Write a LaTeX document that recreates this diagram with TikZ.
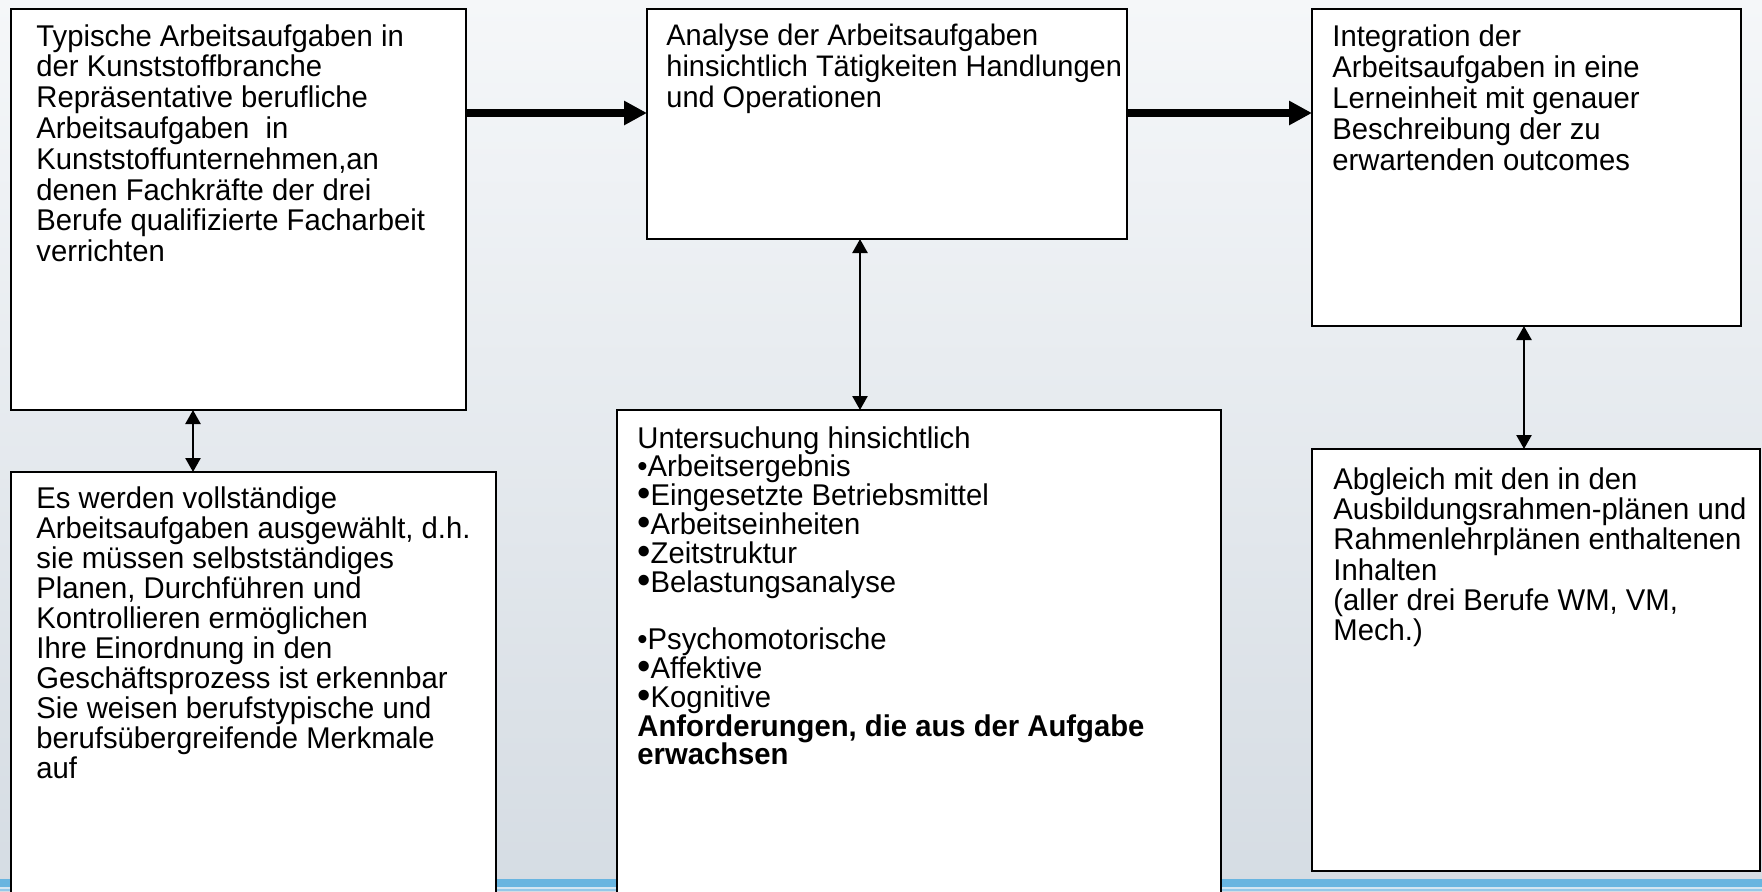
\documentclass[tikz,border=0pt]{standalone}
\usepackage{fontspec}
\setmainfont{Liberation Sans}[FakeStretch=0.975]
\usepackage{graphicx}
\usetikzlibrary{arrows.meta,calc}
\definecolor{bgtop}{HTML}{F5F7F9}
\definecolor{bgbot}{HTML}{D5DCE3}
\definecolor{stripe}{HTML}{68B5E0}
\definecolor{stripelight}{HTML}{D3E6F2}
\definecolor{stripetwo}{HTML}{93C8E8}
\newcommand\bigbul{\smash{\raisebox{-0.04em}{\scalebox{1.3}{•}}}}
\begin{document}
\begin{tikzpicture}[x=0.5pt,y=-0.5pt,
  box/.style={draw=black,line width=1.1pt,fill=white,anchor=north west,inner sep=0pt,outer sep=0pt},
  txt/.style={anchor=north west,inner sep=0pt,align=left},
  flow/.style={line width=4pt,-{Triangle[length=11.5pt,width=11.5pt]}},
  link/.style={line width=1.25pt,{Triangle[length=7pt,width=7.5pt]}-{Triangle[length=7pt,width=7.5pt]}}]
\useasboundingbox (0,0) rectangle (1762,891);
% background
\shade[top color=bgtop,bottom color=bgbot] (0,0) rectangle (1762,891);
\fill[stripe] (0,879) rectangle (1762,887);
\fill[stripelight] (0,887) rectangle (1762,889);
\fill[stripetwo] (0,889) rectangle (1762,891);
% boxes
\node[box,minimum width=227.5pt,minimum height=200.5pt] (b1) at (11,9) {};
\node[box,minimum width=240pt,minimum height=115pt] (b3) at (647,9) {};
\node[box,minimum width=214.5pt,minimum height=158.5pt] (b5) at (1312,9) {};
\node[box,minimum width=242.5pt,minimum height=215pt] (b2) at (11,472) {};
\node[box,minimum width=302pt,minimum height=245pt] (b4) at (617,410) {};
\node[box,minimum width=224pt,minimum height=211pt] (b6) at (1312,449) {};
% texts
\node[txt,font=\fontsize{15}{15.4}\selectfont] (t1) at ($(b1.north west)+(25,15)$)
 {Typische Arbeitsaufgaben in\\ der Kunststoffbranche\\ Repräsentative berufliche\\ Arbeitsaufgaben~ in\\ Kunststoffunternehmen,an\\ denen Fachkräfte der drei\\ Berufe qualifizierte Facharbeit\\ verrichten};
\node[txt,font=\fontsize{14.85}{15.5}\selectfont] (t3) at ($(b3.north west)+(19,15)$)
 {Analyse der Arbeitsaufgaben\\ hinsichtlich Tätigkeiten Handlungen\\ und Operationen};
\node[txt,font=\fontsize{15}{15.5}\selectfont] (t5) at ($(b5.north west)+(20,15)$)
 {Integration der\\ Arbeitsaufgaben in eine\\ Lerneinheit mit genauer\\ Beschreibung der zu\\ erwartenden outcomes};
\node[txt,font=\fontsize{15}{15}\selectfont] (t2) at ($(b2.north west)+(25,14)$)
 {Es werden vollständige\\ Arbeitsaufgaben ausgewählt, d.h.\\ sie müssen selbstständiges\\ Planen, Durchführen und\\ Kontrollieren ermöglichen\\ Ihre Einordnung in den\\ Geschäftsprozess ist erkennbar\\ Sie weisen berufstypische und\\ berufsübergreifende Merkmale\\ auf};
\node[txt,font=\fontsize{15}{14.4}\selectfont] (t4) at ($(b4.north west)+(20,16)$)
 {Untersuchung hinsichtlich\\ •Arbeitsergebnis\\ \bigbul Eingesetzte Betriebsmittel\\ \bigbul Arbeitseinheiten\\ \bigbul Zeitstruktur\\ \bigbul Belastungsanalyse\\ ~\\ •Psychomotorische\\ \bigbul Affektive\\ \bigbul Kognitive\\ \textbf{Anforderungen, die aus der Aufgabe}\\ \textbf{erwachsen}};
\node[txt,font=\fontsize{15}{15.15}\selectfont] (t6) at ($(b6.north west)+(21,18)$)
 {Abgleich mit den in den\\ Ausbildungsrahmen-plänen und\\ Rahmenlehrplänen enthaltenen\\ Inhalten\\ (aller drei Berufe WM, VM,\\ Mech.)};
% connectors
\draw[flow] ($(b1.north east)+(0,104)$) -- ($(b3.north west)+(0,104)$);
\draw[flow] ($(b3.north east)+(0,104)$) -- ($(b5.north west)+(0,104)$);
\draw[link] ($(b1.south west)+(182,0)$) -- ($(b2.north west)+(182,0)$);
\draw[link] ($(b3.south west)+(213,0)$) -- ($(b4.north west)+(243,0)$);
\draw[link] ($(b5.south west)+(212,0)$) -- ($(b6.north west)+(212,0)$);
\end{tikzpicture}
\end{document}
